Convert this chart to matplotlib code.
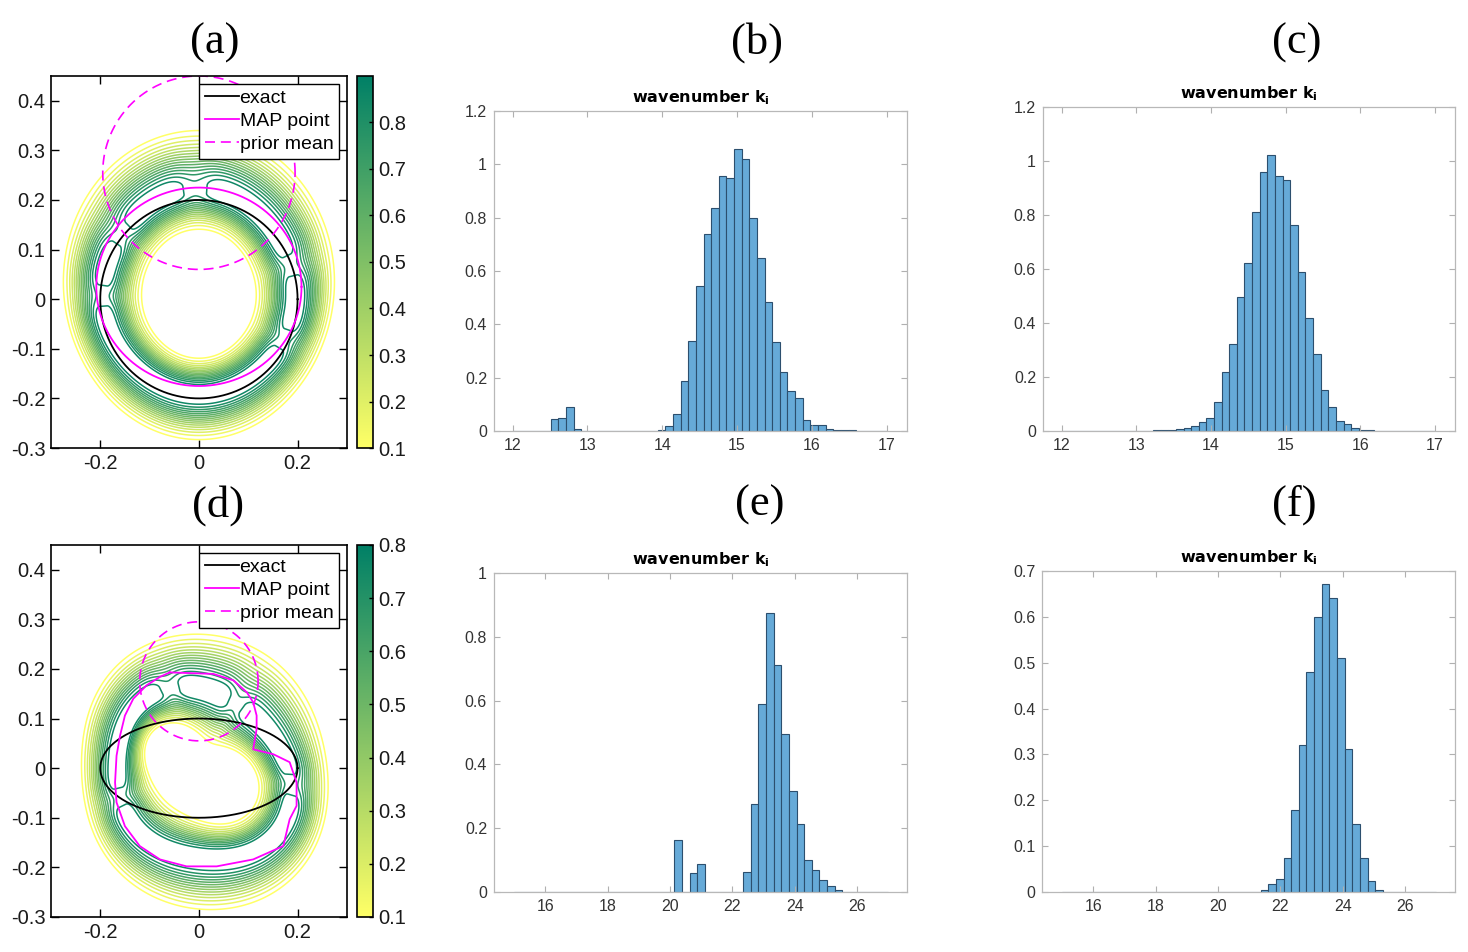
import numpy as np
import matplotlib
matplotlib.use('Agg')
import matplotlib.pyplot as plt
from matplotlib.colors import Normalize
from matplotlib.cm import ScalarMappable

plt.rcParams['font.family'] = 'Liberation Sans'
plt.rcParams['axes.unicode_minus'] = False

# ---- histogram data (pdf heights, 49 equal bins over the given range) ----
b_range = (12.0, 17.0)
b_heights = [0, 0, 0, 0, 0, 0.044, 0.050, 0.090, 0.009, 0.001,
             0, 0, 0, 0, 0, 0, 0, 0, 0,
             0.003, 0.018, 0.062, 0.188, 0.339, 0.542, 0.737, 0.837, 0.958, 0.950,
             1.056, 1.019, 0.800, 0.649, 0.483, 0.333, 0.221, 0.151, 0.122, 0.041,
             0.024, 0.023, 0.009, 0.005, 0.003, 0.002, 0.001, 0.001, 0.0005, 0.0005]

c_range = (12.0, 17.0)
c_heights = [0] * 12 + [0.001, 0.002, 0.004, 0.006, 0.011, 0.017, 0.032, 0.048, 0.108,
                        0.217, 0.320, 0.497, 0.620, 0.810, 0.960, 1.020, 0.943, 0.930,
                        0.763, 0.588, 0.417, 0.283, 0.150, 0.089, 0.035, 0.024, 0.010,
                        0.003, 0.001] + [0] * 8

e_range = (15.0, 27.0)
e_heights = [0] * 21 + [0.164, 0, 0.060, 0.088, 0, 0, 0, 0,
                        0.002, 0.065, 0.276, 0.588, 0.873, 0.711, 0.495, 0.318, 0.213,
                        0.101, 0.070, 0.039, 0.021, 0.007, 0.002, 0.001] + [0] * 4

f_range = (15.0, 27.0)
f_heights = [0] * 26 + [0.004, 0.017, 0.030, 0.074, 0.179, 0.320, 0.479, 0.600, 0.671,
                        0.640, 0.509, 0.313, 0.148, 0.074, 0.025, 0.005, 0.001,
                        0.0005] + [0] * 5

# ---- contour panels: ring-shaped posterior, radii sampled every 45 degrees ----
# ridge = radius of the crest, inner/outer = radius of the 0.1 level
ring_angles = [0, 45, 90, 135, 180, 225, 270, 315]
a_ridge = [0.195, 0.205, 0.222, 0.205, 0.195, 0.188, 0.190, 0.188]
a_inner = [0.116, 0.128, 0.141, 0.128, 0.116, 0.115, 0.119, 0.115]
a_outer = [0.273, 0.310, 0.340, 0.310, 0.273, 0.270, 0.283, 0.270]
a_peak = 0.9
a_dips = [20, 92, 140, 178, 335]
a_levels = [0.10, 0.15, 0.20, 0.25, 0.30, 0.35, 0.40, 0.45,
            0.50, 0.55, 0.60, 0.65, 0.70, 0.75, 0.80, 0.85]

d_ridge = [0.180, 0.150, 0.160, 0.175, 0.165, 0.178, 0.180, 0.205]
d_inner = [0.111, 0.064, 0.070, 0.117, 0.106, 0.095, 0.105, 0.135]
d_outer = [0.260, 0.262, 0.270, 0.262, 0.238, 0.260, 0.284, 0.290]
d_peak = 0.8
d_dips = [60, 110, 200, 350]
d_levels = [0.10, 0.15, 0.20, 0.25, 0.30, 0.35, 0.40, 0.45,
            0.50, 0.55, 0.60, 0.65, 0.70, 0.75]

# curves (exact shape, MAP estimate, prior mean)
a_exact = (0.0, 0.0, 0.2, 0.2)          # cx, cy, rx, ry
a_map = (0.0, 0.025, 0.208, 0.200)
a_prior = (0.0, 0.255, 0.195, 0.195)

d_exact = (0.0, 0.0, 0.2, 0.1)
d_prior = (0.0, 0.175, 0.12, 0.12)
d_map_x = [-0.059, 0.029, 0.070, 0.097, 0.110, 0.117, 0.117, 0.110, 0.151, 0.184,
           0.198, 0.198, 0.184, 0.171, 0.110, 0.036, -0.025, -0.079, -0.120, -0.150,
           -0.167, -0.170, -0.167, -0.160, -0.150, -0.133, -0.106, -0.079, -0.059]
d_map_y = [0.193, 0.190, 0.177, 0.153, 0.133, 0.106, 0.079, 0.038, 0.028, 0.012,
           -0.029, -0.076, -0.103, -0.157, -0.184, -0.198, -0.198, -0.184, -0.157, -0.117,
           -0.069, -0.029, 0.025, 0.065, 0.106, 0.140, 0.167, 0.184, 0.193]

MAGENTA = '#ff00ff'


def trig_interp(vals, th):
    # smooth periodic curve through equally spaced angular samples
    v = np.asarray(vals, float)
    n = len(v)
    c = np.fft.rfft(v) / n
    out = np.full_like(th, c[0].real)
    for k in range(1, len(c)):
        w = 1 if (n % 2 == 0 and k == n // 2) else 2
        out += w * (c[k].real * np.cos(k * th) - c[k].imag * np.sin(k * th))
    return out


def ring_field(X, Y, ridge, inner, outer, peak, dips, gap=0.008):
    r = np.hypot(X, Y)
    th = np.arctan2(Y, X)
    R = trig_interp(ridge, th)
    P = np.full_like(th, peak)
    for dip in dips:
        diff = np.angle(np.exp(1j * (th - np.radians(dip))))
        P -= 0.09 * np.exp(-(diff / np.radians(8)) ** 2)
    D = np.where(r < R, R - trig_interp(inner, th), trig_interp(outer, th) - R)
    t = np.clip(np.abs(r - R) - gap, 0, None) / (D - gap)
    return P * np.exp(-np.log(P / 0.1) * t ** 2)


def ellipse(params):
    cx, cy, rx, ry = params
    t = np.linspace(0, 2 * np.pi, 400)
    return cx + rx * np.cos(t), cy + ry * np.sin(t)


def contour_panel(rect, cbar_rect, ridge, inner, outer, peak, dips, levels, vmax,
                  exact, prior, map_xy):
    ax = fig.add_axes(rect)
    x = np.linspace(-0.3, 0.3, 500)
    y = np.linspace(-0.3, 0.45, 620)
    X, Y = np.meshgrid(x, y)
    Z = ring_field(X, Y, ridge, inner, outer, peak, dips)
    norm = Normalize(0.1, vmax)
    ax.contour(X, Y, Z, levels=levels, cmap='summer_r', norm=norm, linewidths=1.1)
    ax.plot(*ellipse(exact), color='black', lw=1.3, label='exact')
    ax.plot(*map_xy, color=MAGENTA, lw=1.3, label='MAP point')
    ax.plot(*ellipse(prior), color=MAGENTA, lw=1.2, ls=(0, (6, 3.5)), label='prior mean')
    ax.set_xlim(-0.3, 0.3)
    ax.set_ylim(-0.3, 0.45)
    ax.set_xticks([-0.2, 0, 0.2])
    ax.set_xticklabels(['-0.2', '0', '0.2'])
    ax.set_yticks([-0.3, -0.2, -0.1, 0, 0.1, 0.2, 0.3, 0.4])
    ax.set_yticklabels(['-0.3', '-0.2', '-0.1', '0', '0.1', '0.2', '0.3', '0.4'])
    ax.tick_params(direction='in', top=True, right=True, length=6, width=1,
                   labelsize=14.5, labelcolor='#1a1a1a', pad=4)
    for s in ax.spines.values():
        s.set_linewidth(1.2)
    leg = ax.legend(loc='upper right', fontsize=14, fancybox=False, edgecolor='black',
                    framealpha=1, borderpad=0.3, labelspacing=0.27, handlelength=1.75,
                    handletextpad=0.05, borderaxespad=0.4)
    leg.get_frame().set_linewidth(1.0)

    cax = fig.add_axes(cbar_rect)
    cb = fig.colorbar(ScalarMappable(norm=norm, cmap='summer_r'), cax=cax)
    cb.set_ticks([0.1, 0.2, 0.3, 0.4, 0.5, 0.6, 0.7, 0.8])
    cb.ax.tick_params(direction='in', length=3, width=1, labelsize=14.5,
                      labelcolor='#1a1a1a', pad=4)
    cb.outline.set_linewidth(1.2)
    return ax


def hist_panel(rect, hrange, heights, xlim, xticks, ylim, yticks):
    ax = fig.add_axes(rect)
    edges = np.linspace(hrange[0], hrange[1], len(heights) + 1)
    ax.bar(edges[:-1], heights, width=np.diff(edges), align='edge',
           color='#66aad8', edgecolor='#2c4f6e', linewidth=0.8)
    ax.set_xlim(*xlim)
    ax.set_ylim(*ylim)
    ax.set_xticks(xticks)
    ax.set_yticks(yticks)
    ax.set_yticklabels(['%g' % t for t in yticks])
    ax.tick_params(direction='in', top=True, right=True, length=4, width=0.8,
                   color='#b0b0b0', labelcolor='#333333', labelsize=11.5, pad=5)
    for s in ax.spines.values():
        s.set_color('#b8b8b8')
        s.set_linewidth(0.9)
    ax.set_title('wavenumber k$_\\mathbf{i}$', fontsize=11.5, fontweight='bold',
                 family='DejaVu Sans', pad=6)
    return ax


fig = plt.figure(figsize=(14.68, 9.52), dpi=100)

contour_panel([0.0347, 0.5294, 0.2016, 0.3908], [0.2432, 0.5294, 0.0109, 0.3908],
              a_ridge, a_inner, a_outer, a_peak, a_dips, a_levels, 0.9,
              a_exact, a_prior, ellipse(a_map))
contour_panel([0.0347, 0.0368, 0.2016, 0.3908], [0.2432, 0.0368, 0.0109, 0.3908],
              d_ridge, d_inner, d_outer, d_peak, d_dips, d_levels, 0.8,
              d_exact, d_prior, (d_map_x, d_map_y))

hist_panel([0.3365, 0.5473, 0.2813, 0.3361], b_range, b_heights,
           (11.75, 17.27), [12, 13, 14, 15, 16, 17], (0, 1.2), [0, 0.2, 0.4, 0.6, 0.8, 1, 1.2])
hist_panel([0.7105, 0.5476, 0.2807, 0.3403], c_range, c_heights,
           (11.75, 17.27), [12, 13, 14, 15, 16, 17], (0, 1.2), [0, 0.2, 0.4, 0.6, 0.8, 1, 1.2])
hist_panel([0.3365, 0.0627, 0.2813, 0.3357], e_range, e_heights,
           (14.36, 27.6), [16, 18, 20, 22, 24, 26], (0, 1), [0, 0.2, 0.4, 0.6, 0.8, 1])
hist_panel([0.7100, 0.0627, 0.2811, 0.3378], f_range, f_heights,
           (14.36, 27.6), [16, 18, 20, 22, 24, 26], (0, 0.7),
           [0, 0.1, 0.2, 0.3, 0.4, 0.5, 0.6, 0.7])

panel_labels = ['(a)', '(b)', '(c)', '(d)', '(e)', '(f)']
label_x = [0.146, 0.5157, 0.8835, 0.1485, 0.5177, 0.882]
label_y = [0.955, 0.955, 0.955, 0.4695, 0.4695, 0.4695]
for lab, lx, ly in zip(panel_labels, label_x, label_y):
    fig.text(lx, ly, lab, fontsize=32, family='Liberation Serif', ha='center', va='center')

fig.savefig('out.png', dpi=100)
